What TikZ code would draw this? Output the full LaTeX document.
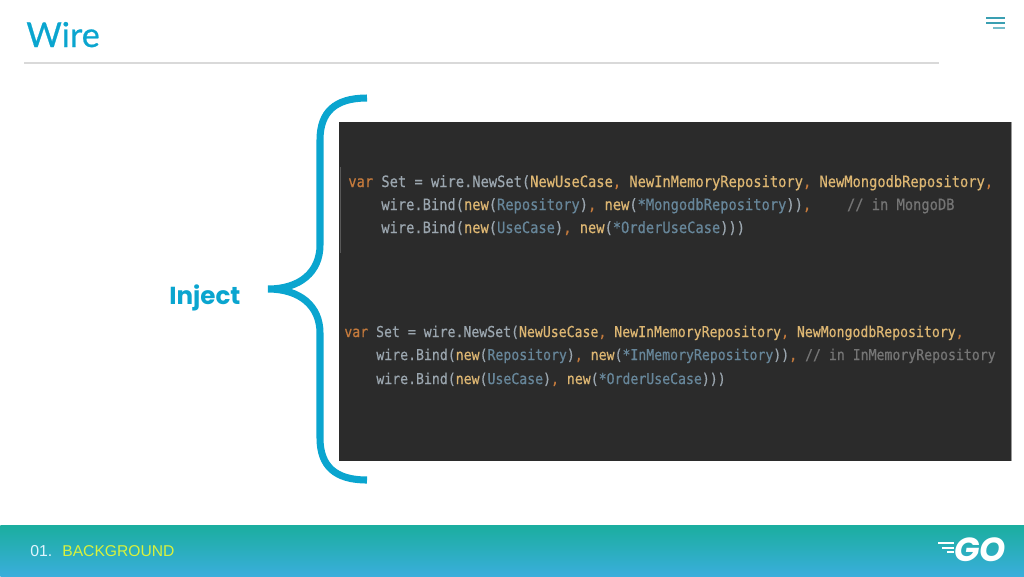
\documentclass[tikz,border=0pt]{standalone}
\usepackage{fontspec}
\setmainfont{Liberation Sans}
\newfontfamily\codefont[FakeBold=0.5,FakeStretch=0.88]{DejaVu Sans Mono}
\newfontfamily\titlefont[FakeBold=0.6]{Lato}
\newfontfamily\injectfont{Poppins}
\newfontfamily\logofont{Poppins}
\definecolor{wireblue}{HTML}{0AA5CF}
\definecolor{codebg}{HTML}{2B2B2B}
\definecolor{codetxt}{HTML}{9BA6AF}
\definecolor{codekw}{HTML}{C47A3C}
\definecolor{codefn}{HTML}{DDB672}
\definecolor{codety}{HTML}{67869A}
\definecolor{codecm}{HTML}{757575}
\definecolor{bandtop}{HTML}{1BAE9F}
\definecolor{bandbot}{HTML}{3AAEDC}
\definecolor{menucol}{HTML}{3A9FB2}
\definecolor{sectioncol}{HTML}{D9F23C}
\newcommand{\kw}[1]{\textcolor{codekw}{#1}}
\newcommand{\fn}[1]{\textcolor{codefn}{#1}}
\newcommand{\ty}[1]{\textcolor{codety}{#1}}
\newcommand{\cm}[1]{\textcolor{codecm}{#1}}
\tikzset{
  codeA/.style={anchor=base west,inner sep=0pt,text=codetxt,font=\codefont\fontsize{8.88}{9}\selectfont},
  codeB/.style={anchor=base west,inner sep=0pt,text=codetxt,font=\codefont\fontsize{8.53}{9}\selectfont},
  menuline/.style={draw=menucol,line width=0.8pt},
  speedline/.style={draw=white,line width=0.7pt},
}
\begin{document}
\begin{tikzpicture}[x=0.02cm,y=-0.02cm]
\useasboundingbox (0,0) rectangle (1024,576);

% title
\node[anchor=base west,inner sep=0pt,text=wireblue,font=\titlefont\fontsize{19.5}{22}\selectfont] (title) at (26,47) {Wire};
\coordinate (ruleL) at (24,63);
\coordinate (ruleR) at (939,63);
\draw[black!15,line width=0.6pt] (ruleL) -- (ruleR);

% menu icon
\coordinate (m1a) at (986,18);
\coordinate (m1b) at (1005,18);
\coordinate (m2a) at (986,23);
\coordinate (m2b) at (1005,23);
\coordinate (m3a) at (993,28);
\coordinate (m3b) at (1005,28);
\draw[menuline] (m1a) -- (m1b);
\draw[menuline] (m2a) -- (m2b);
\draw[menuline,draw opacity=0.7] (m3a) -- (m3b);

% code panel
\node[anchor=north west,inner sep=0pt,minimum width=673*0.02cm,minimum height=339*0.02cm,fill=codebg] (panel) at (339,122) {};
\coordinate (edgeT) at (1011.5,122);
\coordinate (edgeB) at (1011.5,461);
\draw[black!40,line width=0.4pt] (edgeT) -- (edgeB);
\coordinate (gutterT) at (340.5,167);
\coordinate (gutterB) at (340.5,253);
\draw[black!65,line width=0.6pt] (gutterT) -- (gutterB);

\node[codeA] (a1) at (348,187) {\kw{var} Set = wire.NewSet(\fn{NewUseCase}\kw{,} \fn{NewInMemoryRepository}\kw{,} \fn{NewMongodbRepository}\kw{,}};
\node[codeA] (a2) at (381,210) {wire.Bind(\fn{new}(\ty{Repository})\kw{,} \fn{new}(\ty{*MongodbRepository}))\kw{,}\hspace{20.4pt}\cm{// in MongoDB}};
\node[codeA] (a3) at (381,233) {wire.Bind(\fn{new}(\ty{UseCase})\kw{,} \fn{new}(\ty{*OrderUseCase})))};

\node[codeB] (b1) at (344,337) {\kw{var} Set = wire.NewSet(\fn{NewUseCase}\kw{,} \fn{NewInMemoryRepository}\kw{,} \fn{NewMongodbRepository}\kw{,}};
\node[codeB] (b2) at (376,360) {wire.Bind(\fn{new}(\ty{Repository})\kw{,} \fn{new}(\ty{*InMemoryRepository}))\kw{,} \cm{// in InMemoryRepository}};
\node[codeB] (b3) at (376,384) {wire.Bind(\fn{new}(\ty{UseCase})\kw{,} \fn{new}(\ty{*OrderUseCase})))};

% brace
\coordinate (braceT) at (367,98);
\coordinate (braceTip) at (268,289);
\coordinate (braceB) at (367,480);
\draw[wireblue,line width=4pt] (braceT) .. controls (335,98) and (320,112) .. (320,140)
  -- (320,245) .. controls (320,272) and (300,289) .. (braceTip)
  .. controls (300,289) and (320,306) .. (320,333)
  -- (320,438) .. controls (320,466) and (335,480) .. (braceB);
\node[anchor=base west,inner sep=0pt,text=wireblue,font=\injectfont\fontsize{14}{16}\selectfont\bfseries] (inject) at (169,304) {Inject};

% footer band
\node[anchor=north west,inner sep=0pt,minimum width=1024*0.02cm,minimum height=51*0.02cm,top color=bandtop,bottom color=bandbot] (band) at (0,525) {};
\node[anchor=base west,inner sep=0pt,text=cyan!12,font=\fontsize{9}{11}\selectfont] (num) at (30,556) {01.};
\node[anchor=base west,inner sep=0pt,text=sectioncol,font=\fontsize{8.9}{11}\selectfont] (section) at (62,556) {BACKGROUND};

% logo
\node[anchor=base west,inner sep=0pt,text=white,font=\logofont\bfseries\itshape\fontsize{19}{22}\selectfont] (golang) at (954,561) {GO};
\coordinate (s1) at (938,543);
\coordinate (s2) at (942,548);
\coordinate (s3) at (947,552);
\draw[speedline] (s1) -- (golang.west |- s1);
\draw[speedline] (s2) -- (golang.west |- s2);
\draw[speedline] (s3) -- (golang.west |- s3);
\end{tikzpicture}
\end{document}
